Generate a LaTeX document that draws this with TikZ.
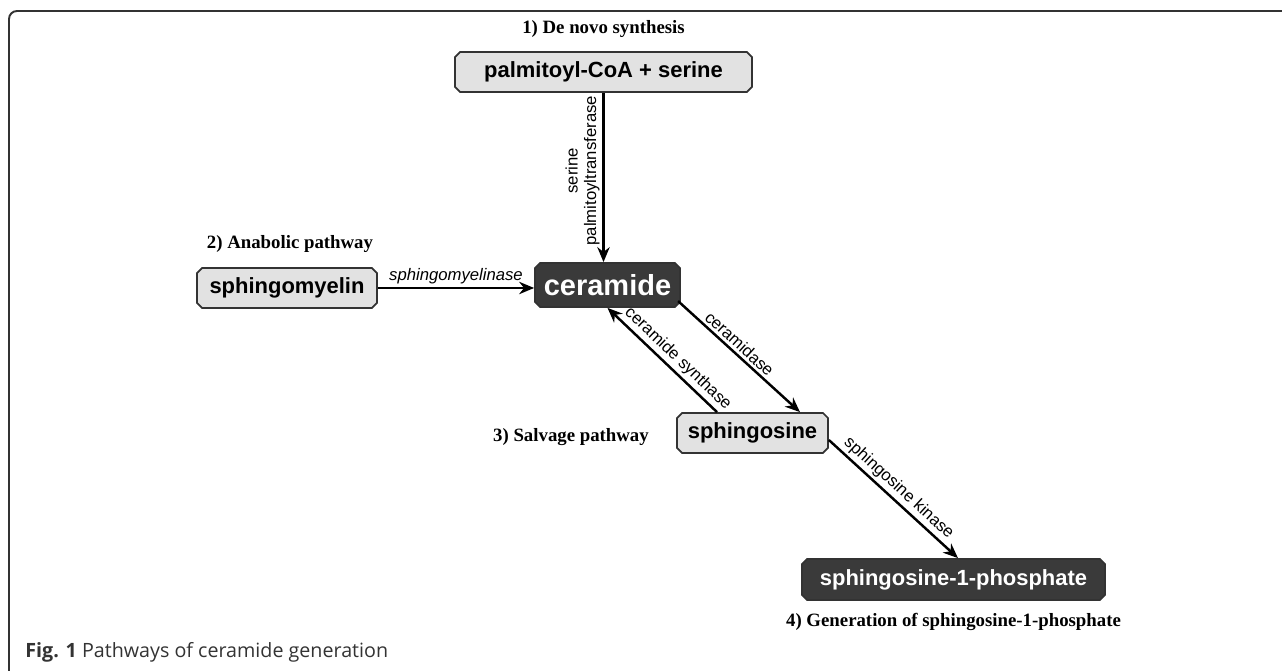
\documentclass[tikz,border=0pt]{standalone}
\usepackage{fontspec}
\setmainfont{Liberation Serif}
\setsansfont{Liberation Sans}
\newfontfamily\capfont{Open Sans}
\usetikzlibrary{shapes.misc,arrows.meta,positioning}
\definecolor{boxgray}{HTML}{E2E2E2}
\definecolor{boxdark}{HTML}{3A3A3A}
\definecolor{framegray}{HTML}{333333}
\tikzset{
  lipid/.style={draw=framegray,line width=1pt,fill=boxgray,chamfered rectangle,
    chamfered rectangle xsep=0.05cm,chamfered rectangle ysep=0.05cm,inner sep=0pt,
    font=\sffamily\bfseries\fontsize{12.5}{14}\selectfont},
  keylipid/.style={lipid,fill=boxdark,text=white},
  pathway/.style={font=\rmfamily\bfseries\fontsize{10.7}{12}\selectfont},
  enzyme/.style={font=\sffamily\fontsize{9.5}{10.5}\selectfont,inner sep=1.5pt},
  react/.style={line width=1.4pt,-{Stealth[length=8.5pt,width=7pt]}}
}
\begin{document}
\begin{tikzpicture}[x=0.02cm,y=-0.02cm]
    \useasboundingbox (0,0) rectangle (1282,671);
    %% Frame
    \draw[framegray,line width=1.1pt,rounded corners=0.16cm] (1282,11) -- (9,11) -- (9,671);
    \node[anchor=west,inner sep=0pt,font=\capfont\fontsize{11.2}{13}\selectfont,text=black!80] (cap) at (25,652) {\textbf{Fig. 1} Pathways of ceramide generation};
    %% Lipids
    \node[lipid,minimum width=5.94cm,minimum height=0.8cm] (pal) at (603.5,72) {palmitoyl-CoA + serine};
    \node[keylipid,minimum width=2.9cm,minimum height=0.88cm,font=\sffamily\bfseries\fontsize{16.5}{18}\selectfont] (cer) at (607.5,285) {ceramide};
    \node[lipid,minimum width=3.6cm,minimum height=0.8cm] (sm) at (287,288) {sphingomyelin};
    \node[lipid,minimum width=3.02cm,minimum height=0.8cm] (sph) at (752.5,433) {sphingosine};
    \node[keylipid,minimum width=6.06cm,minimum height=0.82cm] (s1p) at (953.5,579.5) {sphingosine-1-phosphate};
    %% Pathway titles
    \node[pathway,above=0.14cm of pal] (denovo) {1) De novo synthesis};
    \node[pathway] (anab) at (290,244) {2) Anabolic pathway};
    \node[pathway,anchor=east] (salv) at (655,437) {3) Salvage pathway};
    \node[pathway,below=0.12cm of s1p] (gen) {4) Generation of sphingosine-1-phosphate};
    %% Reactions
    \draw[react] (pal.south) -- (pal.south |- cer.north)
      node[enzyme,pos=0.46,anchor=south,rotate=90,align=center] {serine\\palmitoyltransferase};
    \draw[react] (sm.east) -- (sm.east -| cer.west)
      node[enzyme,midway,above,font=\sffamily\itshape\fontsize{9.5}{10.5}\selectfont] {sphingomyelinase};
    \draw[react] ([yshift=0.08cm]cer.south east) -- ([xshift=0.95cm]sph.north)
      node[enzyme,pos=0.45,sloped,above] {ceramidase};
    \draw[react] ([xshift=-0.71cm]sph.north) -- (cer.south)
      node[enzyme,pos=0.43,sloped,above] {ceramide synthase};
    \draw[react] ([yshift=-0.14cm]sph.east) -- ([xshift=0.09cm]s1p.north)
      node[enzyme,pos=0.48,sloped,above] {sphingosine kinase};
\end{tikzpicture}
\end{document}
